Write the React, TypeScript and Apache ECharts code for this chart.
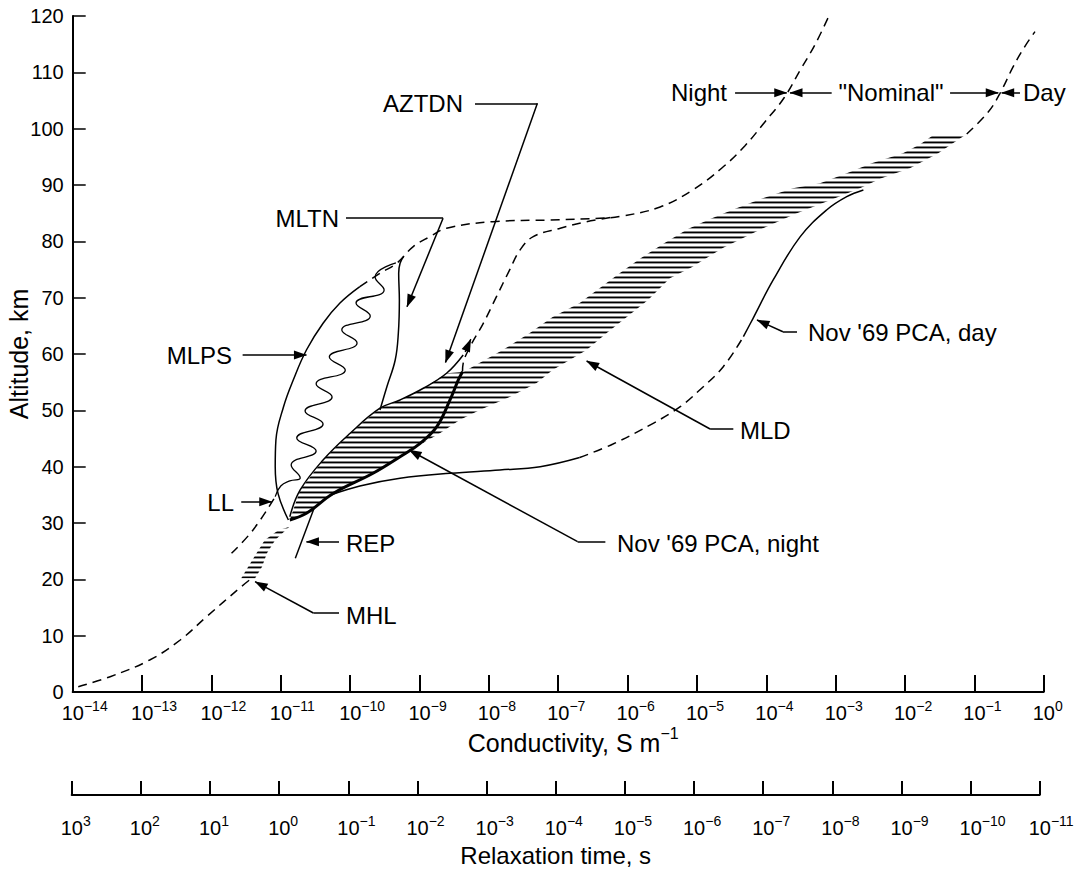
import React, { useEffect, useRef } from "react";
import * as echarts from "echarts";

type P = [number, number];

const FONT = '"Liberation Sans", Arial, Helvetica, sans-serif';

// ---- Data: x = log10(conductivity / S m^-1), y = altitude (km) ----
const NIGHT_LOW: P[] = [[-13.92, 0.94], [-13.46, 2.72], [-12.89, 5.68], [-12.45, 9.23], [-12.07, 13.37], [-11.57, 18.69], [-11.42, 20.18]];
const MHL_BAND: P[] = [[-11.57, 20.18], [-11.47, 22.24], [-11.35, 24.62], [-11.23, 26.98], [-11.03, 28.76], [-10.88, 29.29], [-11.08, 26.98], [-11.2, 24.62], [-11.27, 22.24], [-11.37, 20.18]];
const MLPS_SOLID: P[] = [[-10.89, 30.53], [-11.04, 35.27], [-11.08, 40.0], [-11.07, 44.74], [-10.96, 50.65], [-10.82, 55.39], [-10.63, 60.71], [-10.39, 65.45], [-10.15, 69.0], [-9.86, 71.95]];
const NIGHT_UPPER: P[] = [[-9.86, 71.95], [-9.57, 74.33], [-9.33, 76.1], [-9.09, 79.05], [-8.85, 80.83], [-8.61, 82.32], [-7.94, 83.49], [-7.12, 83.79], [-6.4, 84.09], [-6.11, 84.41], [-5.53, 86.1], [-5.06, 89.12], [-4.64, 93.02], [-4.31, 96.93], [-4.02, 101.19], [-3.745, 105.45], [-3.51, 110.42], [-3.3, 114.86], [-3.11, 119.65]];
const DAY_UPPER: P[] = [[-1.11, 99.06], [-0.8, 102.96], [-0.63, 106.28], [-0.44, 111.0], [-0.285, 114.33], [-0.126, 117.22]];
const PCA_NIGHT_SOLID: P[] = [[-10.87, 30.54], [-10.63, 31.72], [-10.24, 35.27], [-9.67, 38.83], [-9.28, 41.77], [-8.99, 44.15], [-8.75, 47.1], [-8.56, 51.84], [-8.44, 55.39], [-8.38, 56.86]];
const PCA_NIGHT_DASHED: P[] = [[-8.38, 56.86], [-8.37, 58.35], [-8.27, 61.3], [-8.08, 65.45], [-7.89, 70.18], [-7.7, 74.92], [-7.55, 78.47], [-7.36, 80.83], [-6.97, 82.32], [-6.59, 83.49], [-6.16, 84.38]];
const PCA_DAY_LOW: P[] = [[-10.28, 34.97], [-9.86, 36.57], [-9.28, 37.94], [-8.56, 38.83], [-7.84, 39.41], [-7.26, 40.0], [-6.69, 41.63]];
const PCA_DAY_MID: P[] = [[-6.69, 41.63], [-6.21, 44.03], [-5.63, 47.7], [-5.24, 50.65], [-4.96, 53.61], [-4.62, 57.75], [-4.33, 63.08]];
const PCA_DAY_TOP: P[] = [[-4.33, 63.08], [-4.19, 66.34], [-3.9, 73.14], [-3.51, 80.83], [-3.13, 85.57], [-2.84, 87.93], [-2.6, 89.12]];
const AZTDN: P[] = [[-10.87, 31.12], [-10.72, 35.86], [-10.39, 41.19], [-10.0, 45.93], [-9.57, 50.37], [-9.28, 51.84], [-8.945, 53.92], [-8.61, 56.58], [-8.37, 59.83]];
const MLTN: P[] = [[-9.57, 50.06], [-9.47, 54.2], [-9.35, 58.94], [-9.305, 63.68], [-9.29, 69.59], [-9.3, 74.33], [-9.28, 76.11], [-9.23, 77.28]];
const LL_DASHED: P[] = [[-11.71, 24.62], [-11.4, 28.76], [-11.08, 34.67]];
const LL_WAVE: P[] = [[-11.08, 34.67], [-11.0, 36.57], [-10.87, 37.46], [-10.72, 37.99], [-10.85, 40.3], [-10.49, 42.78], [-10.77, 45.09], [-10.39, 47.58], [-10.65, 49.89], [-10.26, 52.37], [-10.49, 54.68], [-10.07, 57.16], [-10.3, 59.47], [-9.9, 61.96], [-10.12, 64.27], [-9.71, 66.75], [-9.915, 69.06], [-9.51, 71.37], [-9.64, 73.67], [-9.34, 76.16]];
const REP: P[] = [[-10.79, 23.74], [-10.52, 32.61]];
const HATCH_LEFT: P[] = [[-10.87, 30.54], [-10.72, 35.86], [-10.39, 41.19], [-10.0, 45.93], [-9.57, 50.37], [-9.28, 51.84], [-8.945, 53.92], [-8.61, 56.58], [-8.37, 56.81], [-7.8, 60.71], [-7.41, 63.73], [-7.08, 66.57], [-6.69, 69.06], [-6.4, 71.72], [-6.11, 74.39], [-5.8, 77.1], [-5.46, 79.76], [-5.13, 82.2], [-4.81, 83.97], [-4.43, 85.87], [-4.05, 87.65], [-3.615, 89.42], [-3.225, 90.31], [-2.84, 92.08], [-2.48, 93.86], [-2.03, 95.63], [-1.78, 97.23], [-1.57, 99.06]];
const HATCH_RIGHT: P[] = [[-10.63, 31.72], [-10.24, 35.27], [-9.67, 38.83], [-9.28, 41.77], [-8.95, 44.2], [-8.7, 45.98], [-8.42, 48.29], [-8.13, 50.06], [-7.7, 52.37], [-7.31, 54.86], [-7.08, 57.16], [-6.59, 60.71], [-6.3, 63.73], [-6.01, 66.57], [-5.705, 69.59], [-5.39, 73.44], [-5.075, 75.4], [-4.62, 78.88], [-4.07, 82.2], [-3.585, 84.86], [-3.01, 87.65], [-2.65, 89.42], [-2.34, 91.2], [-1.93, 92.97], [-1.52, 95.63], [-1.33, 97.23], [-1.11, 99.06]];

// Leader lines (last point = arrow tip)
const LEADERS: P[][] = [
  [[-8.2, 104.51], [-7.3, 104.51], [-8.625, 58.5]],
  [[-10.06, 84.1], [-8.66, 84.1], [-9.18, 68.4]],
  [[-11.55, 59.83], [-10.63, 59.83]],
  [[-11.57, 33.78], [-11.13, 33.78]],
  [[-10.16, 26.68], [-10.63, 26.68]],
  [[-10.16, 14.02], [-10.53, 14.02], [-11.37, 19.58]],
  [[-6.32, 26.68], [-6.72, 26.68], [-9.15, 42.96]],
  [[-4.475, 46.69], [-4.81, 46.69], [-6.59, 58.76]],
  [[-3.557, 63.96], [-3.76, 63.96], [-4.134, 66.04]],
  [[-4.45, 106.39], [-3.705, 106.39]],
  [[-3.057, 106.39], [-3.658, 106.39]],
  [[-1.35, 106.39], [-0.655, 106.39]],
  [[-0.342, 106.39], [-0.606, 106.39]],
  [[-8.34, 60.36], [-8.26, 62.61]],
];

const COND_MIN = -14, COND_MAX = 0; // log10 S/m
const TAU_MIN = -11, TAU_MAX = 3; // log10 s
const ALT_MIN = 0, ALT_MAX = 120;

const supText = (n: number) => (n < 0 ? "\u2212" + Math.abs(n) : String(n));

const HATCH_IMG =
  "data:image/svg+xml;charset=utf-8," +
  encodeURIComponent('<svg xmlns="http://www.w3.org/2000/svg" width="10" height="5"><rect x="0" y="1.5" width="10" height="1.9" fill="#000"/></svg>');
const HATCH_FILL: any = { image: HATCH_IMG, repeat: "repeat", imageWidth: 10, imageHeight: 5 };

const RICH_TICK = {
  b: { fontFamily: FONT, fontSize: 20, lineHeight: 24, color: "#000", verticalAlign: "bottom" },
  s: { fontFamily: FONT, fontSize: 14, lineHeight: 14, color: "#000", verticalAlign: "top" },
};

function lineSeries(name: string, data: P[], dashed = false, width = 1.5, smooth = 0.4) {
  return {
    type: "line",
    name,
    data,
    xAxisIndex: 0,
    yAxisIndex: 0,
    showSymbol: false,
    symbol: "none",
    silent: true,
    smooth,
    z: 3,
    lineStyle: { color: "#000", width, type: dashed ? [9, 6] : "solid" },
  } as any;
}

function hatchSeries(name: string, poly: P[]) {
  return {
    type: "custom",
    name,
    xAxisIndex: 0,
    yAxisIndex: 0,
    silent: true,
    z: 1,
    data: poly,
    renderItem: (params: any, api: any) => {
      if (params.dataIndex !== 0) return null;
      return {
        type: "polygon",
        shape: { points: poly.map((p) => api.coord(p)) },
        style: { fill: HATCH_FILL, stroke: null },
      };
    },
  } as any;
}

function label(text: string, x: number, y: number, align: string) {
  return {
    type: "text",
    x,
    y,
    silent: true,
    style: {
      text,
      fill: "#000",
      fontSize: 24,
      fontFamily: FONT,
      align,
      verticalAlign: "middle",
      textAlign: align,
      textVerticalAlign: "middle",
    },
  };
}

function buildOption() {
  const markData = LEADERS.flatMap((pts) =>
    pts.slice(1).map((p, i) => {
      const last = i === pts.length - 2;
      return [
        { coord: pts[i], symbol: "none" },
        last
          ? { coord: p, symbol: "triangle", symbolSize: [9, 13], symbolOffset: [0, 6] }
          : { coord: p, symbol: "none" },
      ];
    })
  );

  const nightLow = lineSeries("Night nominal (low)", NIGHT_LOW, true);
  nightLow.markLine = {
    silent: true,
    animation: false,
    symbol: ["none", "none"],
    label: { show: false },
    lineStyle: { color: "#000", width: 1.5, type: "solid" },
    emphasis: { disabled: true },
    data: markData,
  };

  return {
    animation: false,
    backgroundColor: "#fff",
    textStyle: { fontFamily: FONT, color: "#000" },
    grid: [
      { left: 72.7, right: 34.3, top: 16, bottom: 180, containLabel: false, outerBoundsMode: "none" },
      { left: 71.7, right: 38.3, top: 700, height: 95, containLabel: false, outerBoundsMode: "none" },
    ],
    xAxis: [
      {
        type: "value",
        gridIndex: 0,
        min: COND_MIN,
        max: COND_MAX,
        interval: 1,
        position: "bottom",
        axisLine: { show: true, onZero: false, lineStyle: { color: "#000", width: 2 } },
        axisTick: { show: true, inside: true, length: 17, lineStyle: { color: "#000", width: 2 } },
        splitLine: { show: false },
        axisLabel: {
          margin: 7,
          align: "left",
          padding: [0, 0, 0, -11],
          fontSize: 20,
          fontFamily: FONT,
          color: "#000",
          formatter: (v: number) => `{b|10}{s|${supText(v)}}`,
          rich: RICH_TICK,
        },
        name: "{t|Conductivity, S m}{s|\u22121}",
        nameLocation: "middle",
        nameGap: 33,
        nameMoveOverlap: false,
        nameTextStyle: {
          padding: [0, 0, 0, 30],
          rich: {
            t: { fontFamily: FONT, fontSize: 25, lineHeight: 30, color: "#000", verticalAlign: "bottom" },
            s: { fontFamily: FONT, fontSize: 16, lineHeight: 16, color: "#000", verticalAlign: "top" },
          },
        },
      },
      {
        type: "value",
        gridIndex: 1,
        min: TAU_MIN,
        max: TAU_MAX,
        interval: 1,
        inverse: true,
        position: "bottom",
        axisLine: { show: true, onZero: false, lineStyle: { color: "#000", width: 2 } },
        axisTick: { show: true, inside: true, length: 14, lineStyle: { color: "#000", width: 2 } },
        splitLine: { show: false },
        axisLabel: {
          margin: 19,
          align: "left",
          padding: [0, 0, 0, -11],
          fontSize: 20,
          fontFamily: FONT,
          color: "#000",
          formatter: (v: number) => `{b|10}{s|${supText(v)}}`,
          rich: RICH_TICK,
        },
        name: "Relaxation time, s",
        nameLocation: "middle",
        nameGap: 48,
        nameMoveOverlap: false,
        nameTextStyle: { fontFamily: FONT, fontSize: 24, color: "#000" },
      },
    ],
    yAxis: [
      {
        type: "value",
        gridIndex: 0,
        min: ALT_MIN,
        max: ALT_MAX,
        interval: 10,
        axisLine: { show: true, onZero: false, lineStyle: { color: "#000", width: 2 } },
        axisTick: { show: true, inside: true, length: 13, lineStyle: { color: "#000", width: 1.5 } },
        splitLine: { show: false },
        axisLabel: { margin: 9, fontSize: 20, color: "#000", fontFamily: FONT },
        name: "Altitude, km",
        nameLocation: "middle",
        nameGap: 41,
        nameRotate: 90,
        nameMoveOverlap: false,
        nameTextStyle: { fontFamily: FONT, fontSize: 25, color: "#000" },
      },
      { type: "value", gridIndex: 1, min: 0, max: 1, show: false },
    ],
    graphic: [
      label("AZTDN", 463, 103, "right"),
      label("MLTN", 339, 218, "right"),
      label("MLPS", 232, 355, "right"),
      label("LL", 234, 502, "right"),
      label("REP", 346, 543, "left"),
      label("MHL", 346, 615, "left"),
      label("Nov '69 PCA, night", 617, 543, "left"),
      label("MLD", 740, 430, "left"),
      label("Nov '69 PCA, day", 808, 332, "left"),
      label("Night", 727, 92, "right"),
      label('"Nominal"', 891, 92, "center"),
      label("Day", 1023, 92, "left"),
    ],
    series: [
      hatchSeries("MLD hatch", [...HATCH_LEFT, ...HATCH_RIGHT.slice().reverse()]),
      hatchSeries("MHL hatch", MHL_BAND),
      nightLow,
      lineSeries("MLPS", MLPS_SOLID),
      lineSeries("Night nominal (upper)", NIGHT_UPPER, true),
      lineSeries("Day nominal (upper)", DAY_UPPER, true),
      lineSeries("Nov '69 PCA, night", PCA_NIGHT_SOLID, false, 3),
      lineSeries("Nov '69 PCA, night (dashed)", PCA_NIGHT_DASHED, true),
      lineSeries("Nov '69 PCA, day (low)", PCA_DAY_LOW),
      lineSeries("Nov '69 PCA, day (mid)", PCA_DAY_MID, true),
      lineSeries("Nov '69 PCA, day (top)", PCA_DAY_TOP),
      lineSeries("AZTDN", AZTDN),
      lineSeries("MLTN", MLTN),
      lineSeries("LL (dashed)", LL_DASHED, true),
      lineSeries("LL", LL_WAVE, false, 1.3, 0.5),
      lineSeries("REP", REP, false, 1.5, 0),
    ],
  };
}

export default function App() {
  const ref = useRef<HTMLDivElement>(null);
  useEffect(() => {
    if (!ref.current) return;
    const chart = echarts.init(ref.current, undefined, { renderer: "svg" });
    chart.setOption(buildOption() as any);
    return () => chart.dispose();
  }, []);
  return (
    <div
      ref={ref}
      style={{ position: "absolute", left: 0, top: 0, width: 1078, height: 872, background: "#fff" }}
    />
  );
}
